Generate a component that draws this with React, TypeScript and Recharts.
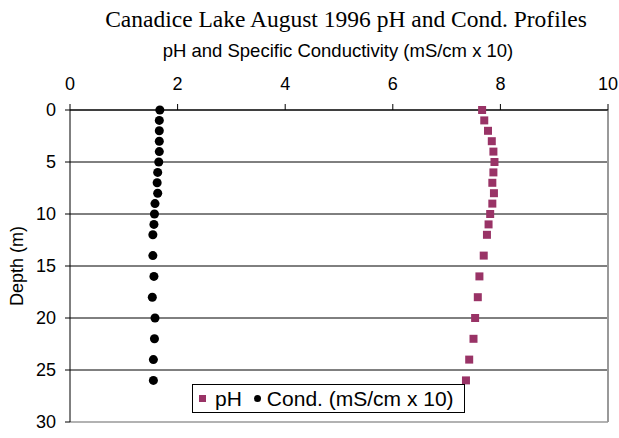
import { ScatterChart, Scatter, XAxis, YAxis, CartesianGrid, ReferenceLine } from 'recharts';

const depths = [0, 1, 2, 3, 4, 5, 6, 7, 8, 9, 10, 11, 12, 14, 16, 18, 20, 22, 24, 26];
const phValues = [7.66, 7.7, 7.77, 7.84, 7.87, 7.89, 7.87, 7.85, 7.88, 7.85, 7.81, 7.78, 7.75, 7.69, 7.61, 7.58, 7.53, 7.5, 7.42, 7.36];
const condValues = [1.67, 1.66, 1.66, 1.66, 1.66, 1.65, 1.63, 1.62, 1.63, 1.58, 1.57, 1.56, 1.54, 1.54, 1.56, 1.53, 1.58, 1.57, 1.55, 1.55];
const xTicks = [0, 2, 4, 6, 8, 10];
const yTicks = [0, 5, 10, 15, 20, 25, 30];
const gridLines = [0, 5, 10, 15, 20, 25];

const phData = depths.map((d, i) => ({ x: phValues[i], depth: d }));
const condData = depths.map((d, i) => ({ x: condValues[i], depth: d }));

const sans = 'Liberation Sans, Arial, sans-serif';
const tickStyle = { fill: '#000', fontSize: 18, fontFamily: sans };

function LegendBox() {
    return (
        <div
            style={{
                position: 'absolute',
                left: 192,
                top: 384,
                width: 273,
                height: 29,
                boxSizing: 'border-box',
                border: '1px solid #000',
                background: '#fff',
                display: 'flex',
                alignItems: 'center',
                fontFamily: sans,
                fontSize: 21,
                color: '#000',
                whiteSpace: 'nowrap',
            }}
        >
            <span style={{ display: 'inline-block', width: 7, height: 7, background: '#993366', marginLeft: 6, marginRight: 9 }} />
            <span>pH</span>
            <span style={{ display: 'inline-block', width: 7, height: 7, borderRadius: 4, background: '#000', marginLeft: 12, marginRight: 6 }} />
            <span>Cond. (mS/cm x 10)</span>
        </div>
    );
}

export default function App() {
    return (
        <div style={{ position: 'absolute', left: 0, top: 0, width: 619, height: 438, background: '#fff' }}>
            <div
                style={{
                    position: 'absolute',
                    top: 6,
                    left: 0,
                    width: 692,
                    textAlign: 'center',
                    fontFamily: 'Liberation Serif, Times New Roman, serif',
                    fontSize: 23.5,
                    color: '#000',
                    whiteSpace: 'nowrap',
                }}
            >
                Canadice Lake August 1996 pH and Cond. Profiles
            </div>
            <div
                style={{
                    position: 'absolute',
                    top: 40,
                    left: 0,
                    width: 676,
                    textAlign: 'center',
                    fontFamily: sans,
                    fontSize: 18.5,
                    color: '#000',
                    whiteSpace: 'nowrap',
                }}
            >
                pH and Specific Conductivity (mS/cm x 10)
            </div>
            <ScatterChart width={619} height={438} margin={{ top: 60, right: 11, bottom: 16, left: 0 }}>
                <CartesianGrid vertical={false} stroke="#000" horizontalValues={gridLines} />
                <ReferenceLine x={10} stroke="#999" strokeWidth={2} />
                <ReferenceLine y={30} stroke="#999" strokeWidth={1.5} />
                <XAxis
                    type="number"
                    dataKey="x"
                    orientation="top"
                    domain={[0, 10]}
                    ticks={xTicks}
                    height={50}
                    stroke="#000"
                    tickSize={6}
                    tickMargin={14}
                    tick={tickStyle}
                />
                <YAxis
                    type="number"
                    dataKey="depth"
                    reversed
                    domain={[0, 30]}
                    ticks={yTicks}
                    width={70}
                    stroke="#000"
                    tickSize={5}
                    tickMargin={9}
                    tick={tickStyle}
                    label={{ value: 'Depth (m)', angle: -90, position: 'insideLeft', offset: 17, style: { fill: '#000', fontSize: 18, fontFamily: sans, textAnchor: 'middle' } }}
                />
                <Scatter name="pH" data={phData} fill="#993366" shape="square" size={85} isAnimationActive={false} />
                <Scatter name="Cond. (mS/cm x 10)" data={condData} fill="#000" shape="circle" size={64} isAnimationActive={false} />
            </ScatterChart>
            <LegendBox />
        </div>
    );
}
